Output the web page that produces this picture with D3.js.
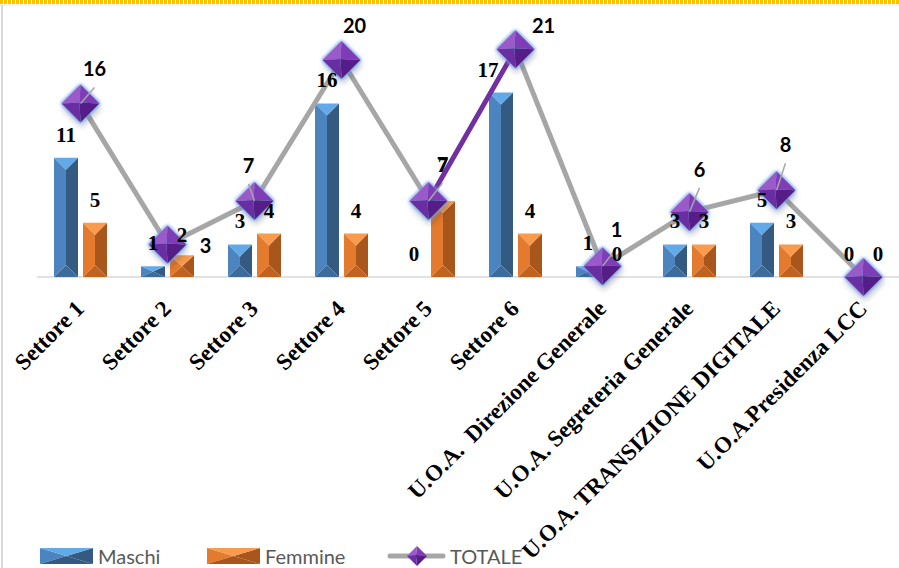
<!DOCTYPE html>
<html><head><meta charset="utf-8">
<script src="https://cdn.jsdelivr.net/npm/d3@7/dist/d3.min.js"></script>
<style>html,body{margin:0;padding:0;background:#fff;}svg{display:block;}</style>
</head><body>
<svg id="chart" width="899" height="568"></svg>
<script>
const categories = ["Settore 1","Settore 2","Settore 3","Settore 4","Settore 5","Settore 6",
  "U.O.A.  Direzione Generale","U.O.A. Segreteria Generale","U.O.A. TRANSIZIONE DIGITALE","U.O.A.Presidenza LCC"];
const maschi  = [11, 1, 3, 16, 0, 17, 1, 3, 5, 0];
const femmine = [5, 2, 4, 4, 7, 4, 0, 3, 3, 0];
const totale  = [16, 3, 7, 20, 7, 21, 1, 6, 8, 0];
const seriesNames = ["Maschi","Femmine","TOTALE"];

// manual label placement (layout, not data): [dx, dy, leader?] relative to marker
const totLabelOff = [[14,-27,1],[38,9,0],[-6,-28,1],[13,-27,0],[14,-29,1],[28,-16,0],[14,-29,1],[10,-35,1],[9,-38,1],null];
const mLabelDx = [0,0,0,0,0,-13,0,0,0,0];
const fLabelDy = [0,3,0,0,-13,0,0,0,0,0];

const svg = d3.select("#chart");
const defs = svg.append("defs");
const glow = defs.append("filter").attr("id","glow").attr("x","-50%").attr("y","-50%").attr("width","200%").attr("height","200%");
glow.append("feMorphology").attr("in","SourceAlpha").attr("operator","dilate").attr("radius",1.2).attr("result","d");
glow.append("feGaussianBlur").attr("in","d").attr("stdDeviation",1.5).attr("result","b");
glow.append("feFlood").attr("flood-color","#6fa0e8").attr("flood-opacity",0.8);
glow.append("feComposite").attr("in2","b").attr("operator","in").attr("result","g");
glow.append("feGaussianBlur").attr("in","SourceAlpha").attr("stdDeviation",3).attr("result","sb");
glow.append("feOffset").attr("in","sb").attr("dx",1).attr("dy",4).attr("result","so");
glow.append("feFlood").attr("flood-color","#000").attr("flood-opacity",0.35);
glow.append("feComposite").attr("in2","so").attr("operator","in").attr("result","s");
const fm = glow.append("feMerge");
fm.append("feMergeNode").attr("in","s");
fm.append("feMergeNode").attr("in","g");
fm.append("feMergeNode").attr("in","SourceGraphic");

// frame
svg.append("line").attr("x1",0).attr("x2",899).attr("y1",2).attr("y2",2)
  .attr("stroke","#FFC000").attr("stroke-width",4).attr("stroke-dasharray","3,1");
svg.append("line").attr("x1",0).attr("x2",899).attr("y1",5).attr("y2",5).attr("stroke","#e6e6e6").attr("stroke-width",1);
svg.append("line").attr("x1",2).attr("x2",2).attr("y1",5).attr("y2",568).attr("stroke","#d9d9d9").attr("stroke-width",2);

const x0 = d3.scaleBand().domain(categories).range([37, 907]);
const x1 = d3.scaleBand().domain(["Maschi","Femmine"]).range([0, x0.bandwidth()]).paddingInner(5/29).paddingOuter(17/29);
const y = d3.scaleLinear().domain([0, 25]).range([277, 5.75]);
const cx = c => x0(c) + x0.bandwidth()/2;

// axis
const axis = svg.append("g").attr("transform",`translate(0,${y(0)})`).call(d3.axisBottom(x0).tickSize(0).tickFormat(""));
axis.select(".domain").attr("stroke","#d9d9d9").attr("stroke-width",1.5).attr("d","M37,0H899");

// category labels
svg.append("g").selectAll("text").data(categories).join("text")
  .attr("transform", d => `translate(${cx(d)+5},${y(0)+33}) rotate(-45)`)
  .attr("text-anchor","end")
  .attr("font-family","'Liberation Serif','Times New Roman',serif").attr("font-weight","bold")
  .attr("font-size",23).attr("fill","#000").style("white-space","pre").text(d => d);

const pal = {
  Maschi: {top:"#62a9e8", left:"#4b84bf", right:"#345a82", bot:"#3d6c9c"},
  Femmine:{top:"#f99a4c", left:"#e37a2d", right:"#a9561d", bot:"#c2621f"}
};
function bevelBar(g, x, w, y0, yb, p){
  const h = yb - y0; if (h <= 0) return;
  const d = Math.min(w/2, h/2), m = x + w/2;
  g.append("polygon").attr("points",`${x},${y0} ${m},${y0+d} ${m},${yb-d} ${x},${yb}`).attr("fill",p.left);
  g.append("polygon").attr("points",`${x+w},${y0} ${x+w},${yb} ${m},${yb-d} ${m},${y0+d}`).attr("fill",p.right);
  g.append("polygon").attr("points",`${x},${yb} ${m},${yb-d} ${x+w},${yb}`).attr("fill",p.bot);
  g.append("polygon").attr("points",`${x},${y0} ${x+w},${y0} ${m},${y0+d}`).attr("fill",p.top);
}
const barsG = svg.append("g");
categories.forEach((c,i) => {
  bevelBar(barsG, x0(c)+x1("Maschi"), x1.bandwidth(), y(maschi[i]), y(0), pal.Maschi);
  bevelBar(barsG, x0(c)+x1("Femmine"), x1.bandwidth(), y(femmine[i]), y(0), pal.Femmine);
});

// total line
const pts = categories.map((c,i) => [cx(c), y(totale[i])]);
const lineG = svg.append("g");
for (let i = 0; i < pts.length-1; i++) {
  lineG.append("path").attr("d", d3.line()([pts[i], pts[i+1]]))
    .attr("stroke", i === 4 ? "#7030A0" : "#a6a6a6").attr("stroke-width",5).attr("fill","none").attr("stroke-linecap","round");
}

function diamond(g, x, yy, r, filt){
  const dg = g.append("g"); if (filt) dg.attr("filter","url(#glow)");
  const T=[x,yy-r],R=[x+r,yy],B=[x,yy+r],L=[x-r,yy],C=[x-1,yy-1];
  const f=(a,b,c,col)=>dg.append("polygon").attr("points",[a,b,c].map(p=>p.join(",")).join(" ")).attr("fill",col);
  f(T,L,C,"#9a5ac9"); f(T,R,C,"#7e3cb6"); f(L,B,C,"#6b2da3"); f(R,B,C,"#561f88");
}
const markG = svg.append("g");
pts.forEach(p => diamond(markG, p[0], p[1], 19, true));

// leaders + total labels
const lab = svg.append("g");
pts.forEach((p,i) => {
  const o = totLabelOff[i]; if (!o) return;
  if (o[2]) lab.append("line").attr("x1",p[0]).attr("y1",p[1]).attr("x2",p[0]+o[0]).attr("y2",p[1]+o[1]+11)
     .attr("stroke","#a6a6a6").attr("stroke-width",1.5);
});
pts.forEach((p,i) => {
  const o = totLabelOff[i]; if (!o) return;
  lab.append("text").attr("x",p[0]+o[0]).attr("y",p[1]+o[1]).attr("text-anchor","middle")
    .attr("font-family","Lato,'Open Sans',sans-serif").attr("font-weight","bold").attr("font-size",20).attr("fill","#000")
    .text(totale[i]);
});
// bar labels
categories.forEach((c,i) => {
  lab.append("text").attr("x", x0(c)+x1("Maschi")+x1.bandwidth()/2 + mLabelDx[i]).attr("y", y(maschi[i])-16)
    .attr("text-anchor","middle").attr("font-family","'Liberation Serif',serif").attr("font-weight","bold").attr("font-size",21)
    .text(maschi[i]);
  lab.append("text").attr("x", x0(c)+x1("Femmine")+x1.bandwidth()/2).attr("y", y(femmine[i])-16+fLabelDy[i])
    .attr("text-anchor","middle").attr("font-family","'Liberation Serif',serif").attr("font-weight","bold").attr("font-size",21)
    .text(femmine[i]);
});

// legend
const lg = svg.append("g");
bevelBar(lg, 40, 53, 548, 564, {top:"#62a9e8",left:"#4b84bf",right:"#345a82",bot:"#345a82"});
bevelBar(lg, 207, 53, 548, 564, {top:"#f99a4c",left:"#e37a2d",right:"#a9561d",bot:"#a9561d"});
lg.append("line").attr("x1",390).attr("x2",443).attr("y1",556).attr("y2",556).attr("stroke","#a6a6a6").attr("stroke-width",5).attr("stroke-linecap","round");
diamond(lg, 417, 556, 10, false);
const textX = [98, 265, 450];
seriesNames.forEach((s,i) => lg.append("text").attr("x",textX[i]).attr("y",564)
  .attr("font-family","Lato,'Open Sans',sans-serif").attr("font-size",20).attr("fill","#595959").text(s));
</script>
</body></html>
